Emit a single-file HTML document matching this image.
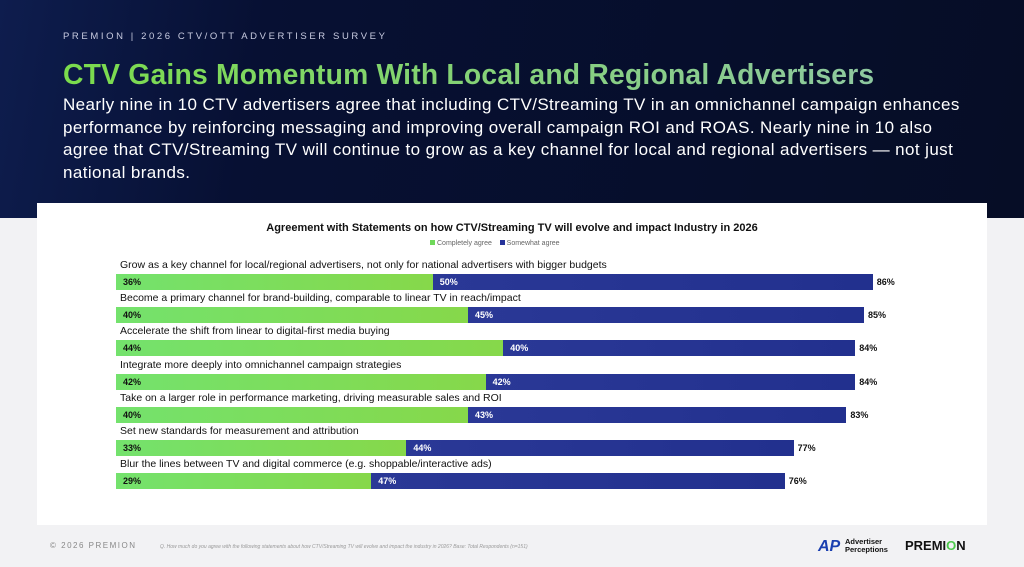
<!DOCTYPE html>
<html><head><style>
*{margin:0;padding:0;box-sizing:border-box}
body{width:1024px;height:567px;overflow:hidden;background:#f2f2f4;font-family:"Liberation Sans",sans-serif;position:relative}
.hdr{position:absolute;left:0;top:0;width:1024px;height:218px;background:linear-gradient(100deg,#0e1d4e 0%,#071033 25%,#060d26 100%)}
.top{position:absolute;left:63px;top:31px;font-size:9.5px;letter-spacing:2.6px;color:#c8cbe0}
h1{position:absolute;left:63px;top:58px;font-size:28.3px;font-weight:bold;background:linear-gradient(90deg,#7bdc4c,#8ec8a0);-webkit-background-clip:text;color:transparent;letter-spacing:0.2px;white-space:nowrap}
.desc{position:absolute;left:63px;top:94px;font-size:17px;line-height:22.6px;color:#fff;white-space:nowrap;letter-spacing:0.4px}
.panel{position:absolute;left:37px;top:203px;width:950px;height:322px;background:#fff}
.ct{position:absolute;left:0;width:1024px;top:222px;text-align:center;font-size:11px;font-weight:bold;color:#111}
.lg{position:absolute;top:240px;left:430px;font-size:7px;color:#666}
.lg i{display:inline-block;width:5px;height:5px;margin-right:2px}
.lab{position:absolute;font-size:10.5px;color:#111;white-space:nowrap}
.bar{position:absolute;height:16px;font-size:9px;font-weight:bold;line-height:16px}
.g{background:linear-gradient(90deg,#74e26d,#86d84a);color:#111;padding-left:7px}
.b{background:linear-gradient(90deg,#2a3896,#22308e);color:#fff;padding-left:7px}
.t{position:absolute;font-size:9px;font-weight:bold;line-height:16px;color:#111}
.foot{position:absolute;top:541px;left:50px;font-size:8px;letter-spacing:1.5px;color:#888}
.q{position:absolute;top:544px;left:160px;font-size:5px;font-style:italic;color:#999}
</style></head><body>
<div class="hdr"></div>
<div class="top">PREMION | 2026 CTV/OTT ADVERTISER SURVEY</div>
<h1>CTV Gains Momentum With Local and Regional Advertisers</h1>
<div class="desc">Nearly nine in 10 CTV advertisers agree that including CTV/Streaming TV in an omnichannel campaign enhances<br>performance by reinforcing messaging and improving overall campaign ROI and ROAS. Nearly nine in 10 also<br>agree that CTV/Streaming TV will continue to grow as a key channel for local and regional advertisers — not just<br>national brands.</div>
<div class="panel"></div>
<div class="ct">Agreement with Statements on how CTV/Streaming TV will evolve and impact Industry in 2026</div>
<div class="lg"><i style="background:#6fd85a"></i>Completely agree &nbsp;&nbsp; <i style="background:#26339a"></i>Somewhat agree</div>
<div id="rows"></div>
<script>
var d=[["Grow as a key channel for local/regional advertisers, not only for national advertisers with bigger budgets",36,50,86],
["Become a primary channel for brand-building, comparable to linear TV in reach/impact",40,45,85],
["Accelerate the shift from linear to digital-first media buying",44,40,84],
["Integrate more deeply into omnichannel campaign strategies",42,42,84],
["Take on a larger role in performance marketing, driving measurable sales and ROI",40,43,83],
["Set new standards for measurement and attribution",33,44,77],
["Blur the lines between TV and digital commerce (e.g. shoppable/interactive ads)",29,47,76]];
var s=8.8,h="";
d.forEach(function(r,i){var y=258+i*33.2;var gw=r[1]*s,bw=(r[3]-r[1])*s;
h+='<div class="lab" style="left:120px;top:'+(y+1)+'px">'+r[0]+'</div>';
h+='<div class="bar g" style="left:116px;top:'+(y+16)+'px;width:'+gw+'px">'+r[1]+'%</div>';
h+='<div class="bar b" style="left:'+(116+gw)+'px;top:'+(y+16)+'px;width:'+bw+'px">'+r[2]+'%</div>';
h+='<div class="t" style="left:'+(116+gw+bw+4)+'px;top:'+(y+16)+'px">'+r[3]+'%</div>';});
document.getElementById("rows").innerHTML=h;
</script>
<div class="foot">© 2026 PREMION</div>
<div class="q">Q. How much do you agree with the following statements about how CTV/Streaming TV will evolve and impact the industry in 2026? Base: Total Respondents (n=151)</div>
<div style="position:absolute;left:818px;top:538px;font-size:16px;font-weight:bold;color:#1a3fb0;font-style:italic">AP</div>
<div style="position:absolute;left:845px;top:538px;font-size:7.5px;font-weight:bold;line-height:8px;color:#111">Advertiser<br>Perceptions</div>
<div style="position:absolute;left:905px;top:538px;font-size:13px;font-weight:bold;color:#111">PREMI<span style="color:#4cc94c">O</span>N</div>
</body></html>
